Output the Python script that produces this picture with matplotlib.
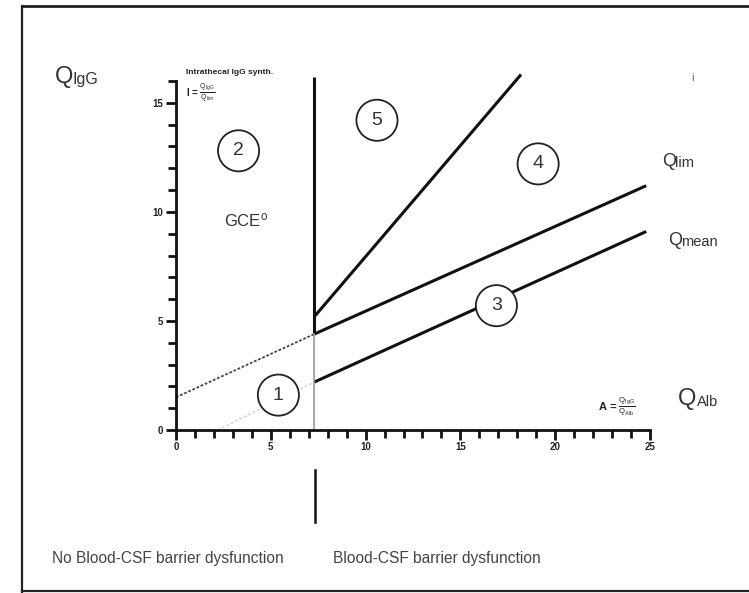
import matplotlib
matplotlib.use("Agg")
import matplotlib.pyplot as plt
from matplotlib.lines import Line2D

plt.rcParams['font.family'] = ['Liberation Sans', 'DejaVu Sans']
plt.rcParams['mathtext.fontset'] = 'custom'
plt.rcParams['mathtext.rm'] = 'Liberation Sans'
plt.rcParams['mathtext.it'] = 'Liberation Sans'

# ---- data ----
x_ticks = [0, 5, 10, 15, 20, 25]
x_tick_labels = ["0", "5", "10", "15", "20", "25"]
y_ticks = [0, 5, 10, 15]
y_tick_labels = ["0", "5", "10", "15"]

barrier_x = 7.3
barrier_top = 16.2

qlim_dotted_x = [0.0, 7.3]
qlim_dotted_y = [1.5, 4.4]
qlim_x = [7.3, 24.8]
qlim_y = [4.4, 11.2]

qmean_dotted_x = [2.2, 7.3]
qmean_dotted_y = [0.0, 2.2]
qmean_x = [7.3, 24.8]
qmean_y = [2.2, 9.1]

upper_x = [7.3, 18.2]
upper_y = [5.2, 16.3]

zone_labels = ["1", "2", "3", "4", "5"]
zone_x = [5.4, 3.3, 16.9, 19.1, 10.6]
zone_y = [1.6, 12.8, 5.7, 12.2, 14.2]

# ---- figure ----
fig = plt.figure(figsize=(7.49, 5.93), dpi=100)
W, H = 749, 593

def fx(px):
    return px / W

def fy(py):
    return 1 - py / H

ax = fig.add_axes([fx(176), fy(430), (650 - 176) / W, (430 - 81) / H])
ax.set_xlim(0, 25)
ax.set_ylim(0, 16)
for s in ['top', 'right']:
    ax.spines[s].set_visible(False)
for s in ['left', 'bottom']:
    ax.spines[s].set_linewidth(2.0)
    ax.spines[s].set_color('#111111')

ax.set_xticks(x_ticks)
ax.set_xticklabels(x_tick_labels, fontsize=7, fontweight='bold', color='#222222')
ax.set_yticks(y_ticks)
ax.set_yticklabels(y_tick_labels, fontsize=7, fontweight='bold', color='#222222')
ax.set_xticks(range(0, 26), minor=True)
ax.set_yticks(range(0, 17), minor=True)
ax.tick_params(which='both', direction='out', color='#111111', width=2.0)
ax.tick_params(which='major', length=7, pad=2)
ax.tick_params(which='minor', length=6)

# lines
ax.plot(qlim_dotted_x, qlim_dotted_y, color='#444444', lw=1.3, ls=(0, (1.5, 1.0)))
ax.plot(qlim_x, qlim_y, color='#111111', lw=2.2, solid_capstyle='butt')
ax.plot(qmean_dotted_x, qmean_dotted_y, color='#cccccc', lw=1.0, ls=(0, (2, 1.5)))
ax.plot(qmean_x, qmean_y, color='#111111', lw=2.2, solid_capstyle='butt')
ax.plot(upper_x, upper_y, color='#111111', lw=2.2, clip_on=False, solid_capstyle='butt')
ax.plot([barrier_x, barrier_x], [qlim_y[0], barrier_top], color='#111111', lw=2.2,
        clip_on=False, solid_capstyle='butt')
ax.plot([barrier_x, barrier_x], [0, qlim_y[0]], color='#999999', lw=1.2)

# circled zone numbers
for lab, zx, zy in zip(zone_labels, zone_x, zone_y):
    ax.text(zx, zy, lab, ha='center', va='center', fontsize=14, color='#333333',
            bbox=dict(boxstyle='circle,pad=0.62', fc='white', ec='#222222', lw=1.3),
            zorder=5)

ax.text(3.7, 9.6, r'GCE$^{\mathrm{o}}$', ha='center', va='center', fontsize=12, color='#333333')

# small annotations
fig.text(fx(186), fy(72), 'Intrathecal IgG synth.', fontsize=6, fontweight='bold',
         ha='left', va='center', color='#222222')
fig.text(fx(186), fy(93), r'I = $\frac{Q_{IgG}}{Q_{lim}}$', fontsize=7, fontweight='bold',
         ha='left', va='center', color='#222222')
fig.text(fx(598), fy(407), r'A = $\frac{Q_{IgG}}{Q_{Alb}}$', fontsize=8, fontweight='bold',
         ha='left', va='center', color='#222222')
fig.text(fx(693), fy(78), 'i', fontsize=8, ha='center', va='center', color='#666666')

# axis / line labels: big Q plus subscript
def qlabel(px, py, sub, qsize, subsize, subdx, subdy):
    fig.text(fx(px), fy(py), 'Q', fontsize=qsize, ha='left', va='baseline', color='#333333')
    fig.text(fx(px + subdx), fy(py + subdy), sub, fontsize=subsize, ha='left', va='baseline',
             color='#333333')

qlabel(55, 83, 'IgG', 17, 11.5, 18, 1)
qlabel(678, 405, 'Alb', 17, 10.5, 19, 1)
qlabel(662, 166, 'lim', 13, 10.5, 13, 1)
qlabel(668, 245, 'mean', 13, 10.5, 13, 1)

# bottom labels and separator
fig.add_artist(Line2D([fx(315), fx(315)], [fy(470), fy(522)], color='#111111', lw=1.8))
fig.text(fx(52), fy(558), 'No Blood-CSF barrier dysfunction', fontsize=11.2,
         ha='left', va='center', color='#444444')
fig.text(fx(333), fy(558), 'Blood-CSF barrier dysfunction', fontsize=11.2,
         ha='left', va='center', color='#444444')

# outer frame (top, left, bottom)
fig.add_artist(Line2D([fx(22), 1.0], [fy(6), fy(6)], color='#222222', lw=2.0))
fig.add_artist(Line2D([fx(22), fx(22)], [fy(6), fy(592)], color='#222222', lw=1.6))
fig.add_artist(Line2D([fx(22), 1.0], [fy(591), fy(591)], color='#222222', lw=1.6))

fig.savefig('out.png', dpi=100)
